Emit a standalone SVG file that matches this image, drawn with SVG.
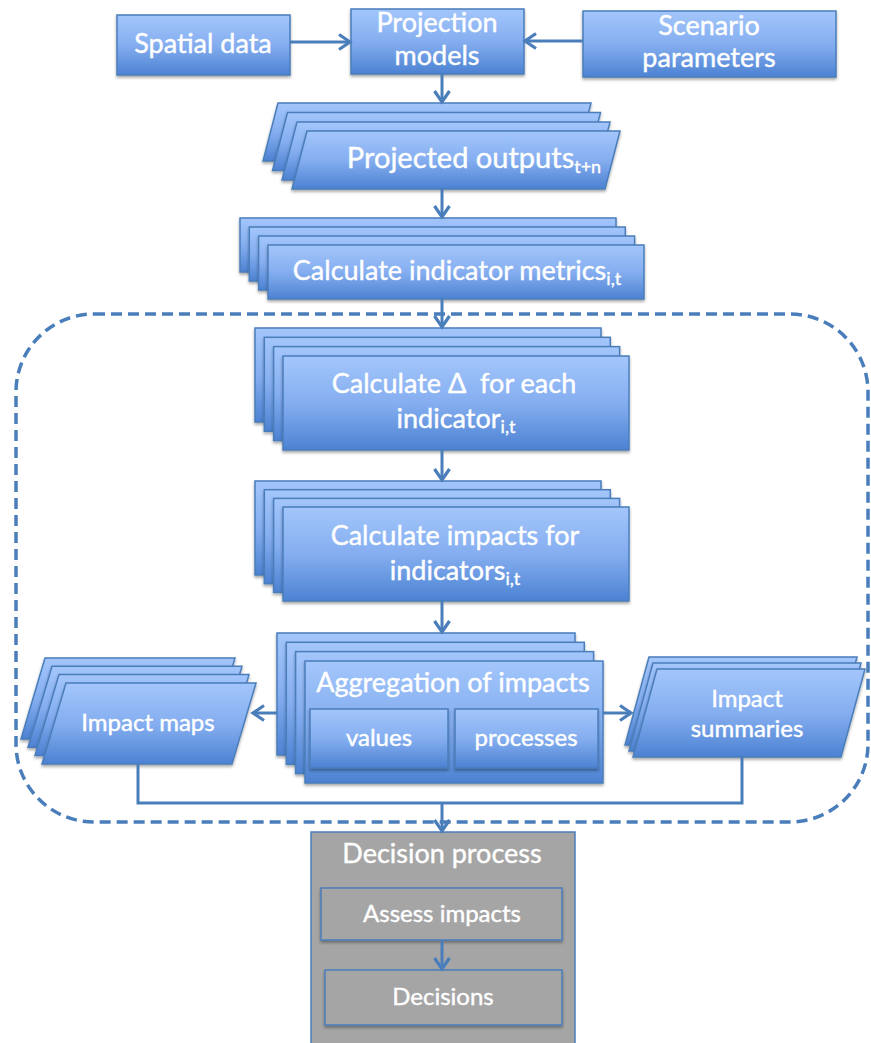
<svg xmlns="http://www.w3.org/2000/svg" width="871" height="1043" viewBox="0 0 871 1043">
<defs>
<linearGradient id="blue" x1="0" y1="0" x2="0" y2="1">
<stop offset="0" stop-color="#a3c6fb"/>
<stop offset="0.5" stop-color="#85aef0"/>
<stop offset="1" stop-color="#4c82d2"/>
</linearGradient>
<filter id="sh" x="-10%" y="-10%" width="120%" height="130%">
<feDropShadow dx="0" dy="2" stdDeviation="1.5" flood-color="#000" flood-opacity="0.35"/>
</filter>
<marker id="arr" markerUnits="userSpaceOnUse" markerWidth="18" markerHeight="20" viewBox="0 0 18 20" refX="15" refY="10" orient="auto">
<path d="M4,2.5 L15,10 L4,17.5" fill="none" stroke="#4a7ebb" stroke-width="3.2" stroke-linejoin="miter"/>
</marker>
</defs>
<style>
.b{fill:url(#blue);stroke:#4a7ebb;stroke-width:1.5;filter:url(#sh)}
.g{fill:#a5a5a5;stroke:#4a7ebb;stroke-width:1.5}
.gi{fill:#a5a5a5;stroke:#4a7ebb;stroke-width:1.5;filter:url(#sh)}
.t{font-family:Lato,"Liberation Sans",sans-serif;fill:#fff;stroke:#fff;stroke-width:0.4;text-anchor:middle;font-size:27px;white-space:pre}
.s{font-size:24px}
.p{font-size:29px}
.sub{font-size:18px}
.c{fill:none;stroke:#4a7ebb;stroke-width:3}
.d{fill:none;stroke:#4a7ebb;stroke-width:3.5;stroke-dasharray:11 6}
</style>

<rect class="d" x="16" y="314" width="852" height="508" rx="78" ry="78"/>

<g id="spatial">
<rect class="b" x="117" y="15" width="173" height="60"/>
<text class="t" x="203" y="53">Spatial data</text>
</g>
<g id="projection">
<rect class="b" x="351" y="9" width="173" height="65"/>
<text class="t" x="437" y="32">Projection</text>
<text class="t" x="437" y="65">models</text>
</g>
<g id="scenario">
<rect class="b" x="583" y="11" width="253" height="66"/>
<text class="t" x="709" y="35">Scenario</text>
<text class="t" x="709" y="67">parameters</text>
</g>

<g id="projected">
<polygon class="b" points="278,103 591,103 576,161 263,161"/>
<polygon class="b" points="287.5,112.5 600.5,112.5 585.5,170.5 272.5,170.5"/>
<polygon class="b" points="297,122 610,122 595,180 282,180"/>
<polygon class="b" points="307,131 620,131 605,189 292,189"/>
<text class="t p" x="474" y="168">Projected outputs<tspan class="sub" font-size="19" dy="5">t+n</tspan></text>
</g>

<g id="indicator">
<rect class="b" x="240" y="218" width="376" height="54"/>
<rect class="b" x="249.3" y="227" width="376" height="54"/>
<rect class="b" x="258.6" y="236" width="376" height="54"/>
<rect class="b" x="268" y="245" width="376" height="54"/>
<text class="t" x="457" y="280">Calculate indicator metrics<tspan class="sub" dy="5">i,t</tspan></text>
</g>

<g id="delta">
<rect class="b" x="255" y="328" width="346" height="94"/>
<rect class="b" x="264.3" y="337.3" width="346" height="94"/>
<rect class="b" x="273.6" y="346.6" width="346" height="94"/>
<rect class="b" x="283" y="356" width="346" height="94"/>
<text class="t" x="454" y="393" xml:space="preserve">Calculate Δ  for each</text>
<text class="t" x="456" y="428">indicator<tspan class="sub" dy="5">i,t</tspan></text>
</g>

<g id="impacts">
<rect class="b" x="255" y="481" width="346" height="94"/>
<rect class="b" x="264.3" y="489.7" width="346" height="94"/>
<rect class="b" x="273.6" y="498.4" width="346" height="94"/>
<rect class="b" x="283" y="507" width="346" height="94"/>
<text class="t" x="455" y="545">Calculate impacts for</text>
<text class="t" x="455" y="580">indicators<tspan class="sub" dy="5">i,t</tspan></text>
</g>

<g id="aggregation">
<rect class="b" x="277" y="633" width="298" height="122"/>
<rect class="b" x="286.3" y="642.3" width="298" height="122"/>
<rect class="b" x="295.6" y="651.6" width="298" height="122"/>
<rect class="b" x="305" y="661" width="298" height="122"/>
<text class="t" x="453" y="692">Aggregation of impacts</text>
<g id="values">
<rect class="b" x="310" y="709" width="138" height="59"/>
<text class="t s" x="379" y="746">values</text>
</g>
<g id="processes">
<rect class="b" x="455" y="709" width="143" height="59"/>
<text class="t s" x="526" y="746">processes</text>
</g>
</g>

<g id="maps">
<polygon class="b" points="45,658 235,658 211,739 21,739"/>
<polygon class="b" points="52,666.3 242,666.3 218,747.3 28,747.3"/>
<polygon class="b" points="59,674.6 249,674.6 225,755.6 35,755.6"/>
<polygon class="b" points="66,683 256,683 232,764 42,764"/>
<text class="t s" x="148" y="731">Impact maps</text>
</g>

<g id="summaries">
<polygon class="b" points="649,657 857,657 833,745 625,745"/>
<polygon class="b" points="653,663 861,663 837,751 629,751"/>
<polygon class="b" points="657,669 865,669 841,757 633,757"/>
<text class="t s" x="747" y="707">Impact</text>
<text class="t s" x="747" y="737">summaries</text>
</g>

<g id="decision">
<rect class="g" x="311" y="832" width="264" height="220"/>
<text class="t" x="442" y="863">Decision process</text>
<g id="assess">
<rect class="gi" x="321" y="888" width="241" height="52"/>
<text class="t s" x="442" y="922">Assess impacts</text>
</g>
<g id="decisions">
<rect class="gi" x="325" y="970" width="237" height="55"/>
<text class="t s" x="443" y="1005">Decisions</text>
</g>
</g>

<g id="connectors">
<line class="c" x1="290" y1="42" x2="350" y2="42" marker-end="url(#arr)"/>
<line class="c" x1="583" y1="41" x2="525" y2="41" marker-end="url(#arr)"/>
<line class="c" x1="442" y1="74" x2="442" y2="102" marker-end="url(#arr)"/>
<line class="c" x1="442" y1="189" x2="442" y2="217" marker-end="url(#arr)"/>
<line class="c" x1="442" y1="299" x2="442" y2="327" marker-end="url(#arr)"/>
<line class="c" x1="442" y1="450" x2="442" y2="480" marker-end="url(#arr)"/>
<line class="c" x1="442" y1="601" x2="442" y2="632" marker-end="url(#arr)"/>
<line class="c" x1="277" y1="713" x2="253" y2="713" marker-end="url(#arr)"/>
<line class="c" x1="603" y1="713" x2="631" y2="713" marker-end="url(#arr)"/>
<polyline class="c" points="138,764 138,803 742,803 742,757"/>
<line class="c" x1="442" y1="803" x2="442" y2="831" marker-end="url(#arr)"/>
<line class="c" x1="442" y1="940" x2="442" y2="969" marker-end="url(#arr)"/>
</g>
</svg>
